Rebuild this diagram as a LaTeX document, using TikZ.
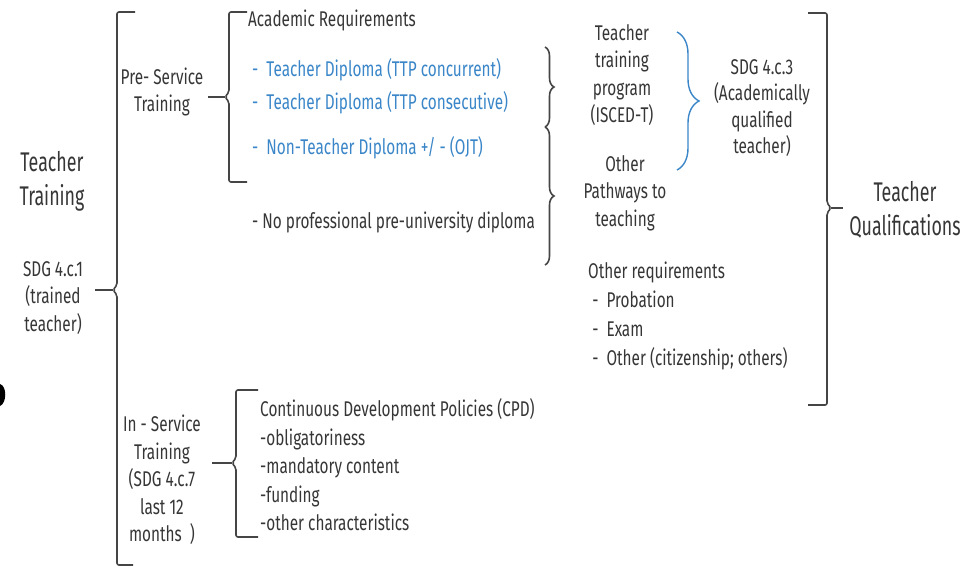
\documentclass[tikz,border=0pt]{standalone}
\usepackage{fontspec}
\setmainfont{Fira Sans}[FakeStretch=0.72]
\newfontfamily\bigf{Fira Sans}[FakeStretch=0.66]
\usetikzlibrary{decorations.pathreplacing}
\definecolor{txt}{HTML}{363636}
\definecolor{ln}{HTML}{454545}
\definecolor{bl}{HTML}{3A86C8}
\tikzset{
  lbl/.style={inner sep=0pt, text=txt, font=\fontsize{21.3}{27.5}\selectfont},
  big/.style={inner sep=0pt, text=txt, font=\bigf\fontsize{27}{34}\selectfont, align=center},
  blu/.style={inner sep=0pt, text=bl, font=\fontsize{21.3}{27}\selectfont, anchor=west},
  brk/.style={draw=ln, line width=1.6pt, rounded corners=2pt},
  crl/.style={draw=ln, line width=1.6pt, decorate, decoration={brace, amplitude=#1}},
}
\begin{document}
\begin{tikzpicture}[x=1pt,y=-1pt]
\useasboundingbox (0,0) rectangle (963,570);
% left blob
\fill[black] (0,384) .. controls (7,386) and (7,403) .. (0,406) -- cycle;

% texts
\node[big] (tt) at (52,181) {Teacher\\Training};
\node[lbl, align=center] (sdg1) at (53,298) {SDG 4.c.1\\(trained\\teacher)};
\node[lbl, align=center] (pre) at (162,92) {Pre- Service\\Training};
\node[lbl, align=center] (ins) at (162,480) {In - Service\\Training\\(SDG 4.c.7\\last 12\\months\ \ )};
\node[lbl, anchor=west] (acad) at (248,20) {Academic Requirements};
\node[blu] (d1) at (252,70) {-\ \ Teacher Diploma (TTP concurrent)};
\node[blu] (d2) at (252,103) {-\ \ Teacher Diploma (TTP consecutive)};
\node[blu] (d3) at (252,148) {-\ \ Non-Teacher Diploma +/ - (OJT)};
\node[lbl, anchor=west] (nop) at (252,222) {- No professional pre-university diploma};
\node[lbl, align=center] (ttp) at (622,75) {Teacher\\training\\program\\(ISCED-T)};
\node[lbl, align=center] (oth) at (625,193) {Other\\Pathways to\\teaching};
\node[lbl, align=center, font=\fontsize{21.3}{26.5}\selectfont] (sdg3) at (762,108) {SDG 4.c.3\\(Academically\\qualified\\teacher)};
\node[big] (tq) at (905,210) {Teacher\\Qualifications};
\node[lbl, anchor=west, align=left, font=\fontsize{21.3}{29.3}\selectfont] (oreq) at (588,316) {Other requirements\\\ -\ \ Probation\\\ -\ \ Exam\\\ -\ \ Other (citizenship; others)};
\node[lbl, anchor=west, align=left, font=\fontsize{21.3}{28.5}\selectfont] (cpd) at (260,465) {Continuous Development Policies (CPD)\\-obligatoriness\\-mandatory content\\-funding\\-other characteristics};

% big left bracket
\coordinate (a1) at (117,12); \coordinate (a2) at (117,565); \coordinate (am) at (113,290);
\draw[brk] (135,12) -- (a1) -- (117,285) -- (am) -- (117,295) -- (a2) -- (133,565);
\draw[ln, line width=1.6pt] (95,290) -- (am);

% pre-service bracket
\coordinate (b1) at (229,12); \coordinate (b2) at (229,182); \coordinate (bm) at (225,97);
\draw[brk] (247,12) -- (b1) -- (229,92) -- (bm) -- (229,102) -- (b2) -- (247,182);
\draw[ln, line width=1.6pt] (208,97) -- (bm);

% in-service bracket
\coordinate (c1) at (236,390); \coordinate (c2) at (236,537); \coordinate (cm) at (232,463);
\draw[brk] (258,390) -- (c1) -- (236,458) -- (cm) -- (236,468) -- (c2) -- (258,537);
\draw[ln, line width=1.6pt] (212,463) -- (cm);

% right big bracket
\coordinate (r1) at (827,13); \coordinate (r2) at (827,405); \coordinate (rm) at (831,208);
\draw[brk] (808,13) -- (r1) -- (827,203) -- (rm) -- (827,213) -- (r2) -- (808,405);
\draw[ln, line width=1.6pt] (rm) -- (843,208);

% curly braces
\coordinate (k1) at (545,47); \coordinate (k2) at (545,127); \coordinate (k3) at (545,265);
\draw[crl=9pt] (k1) -- (k2);
\draw[crl=9pt] (k2) -- (k3);
\coordinate (u1) at (677,32); \coordinate (u2) at (677,170);
\draw[draw=bl, line width=1.4pt, decorate, decoration={brace, amplitude=22pt}] (u1) -- (u2);
\end{tikzpicture}
\end{document}
